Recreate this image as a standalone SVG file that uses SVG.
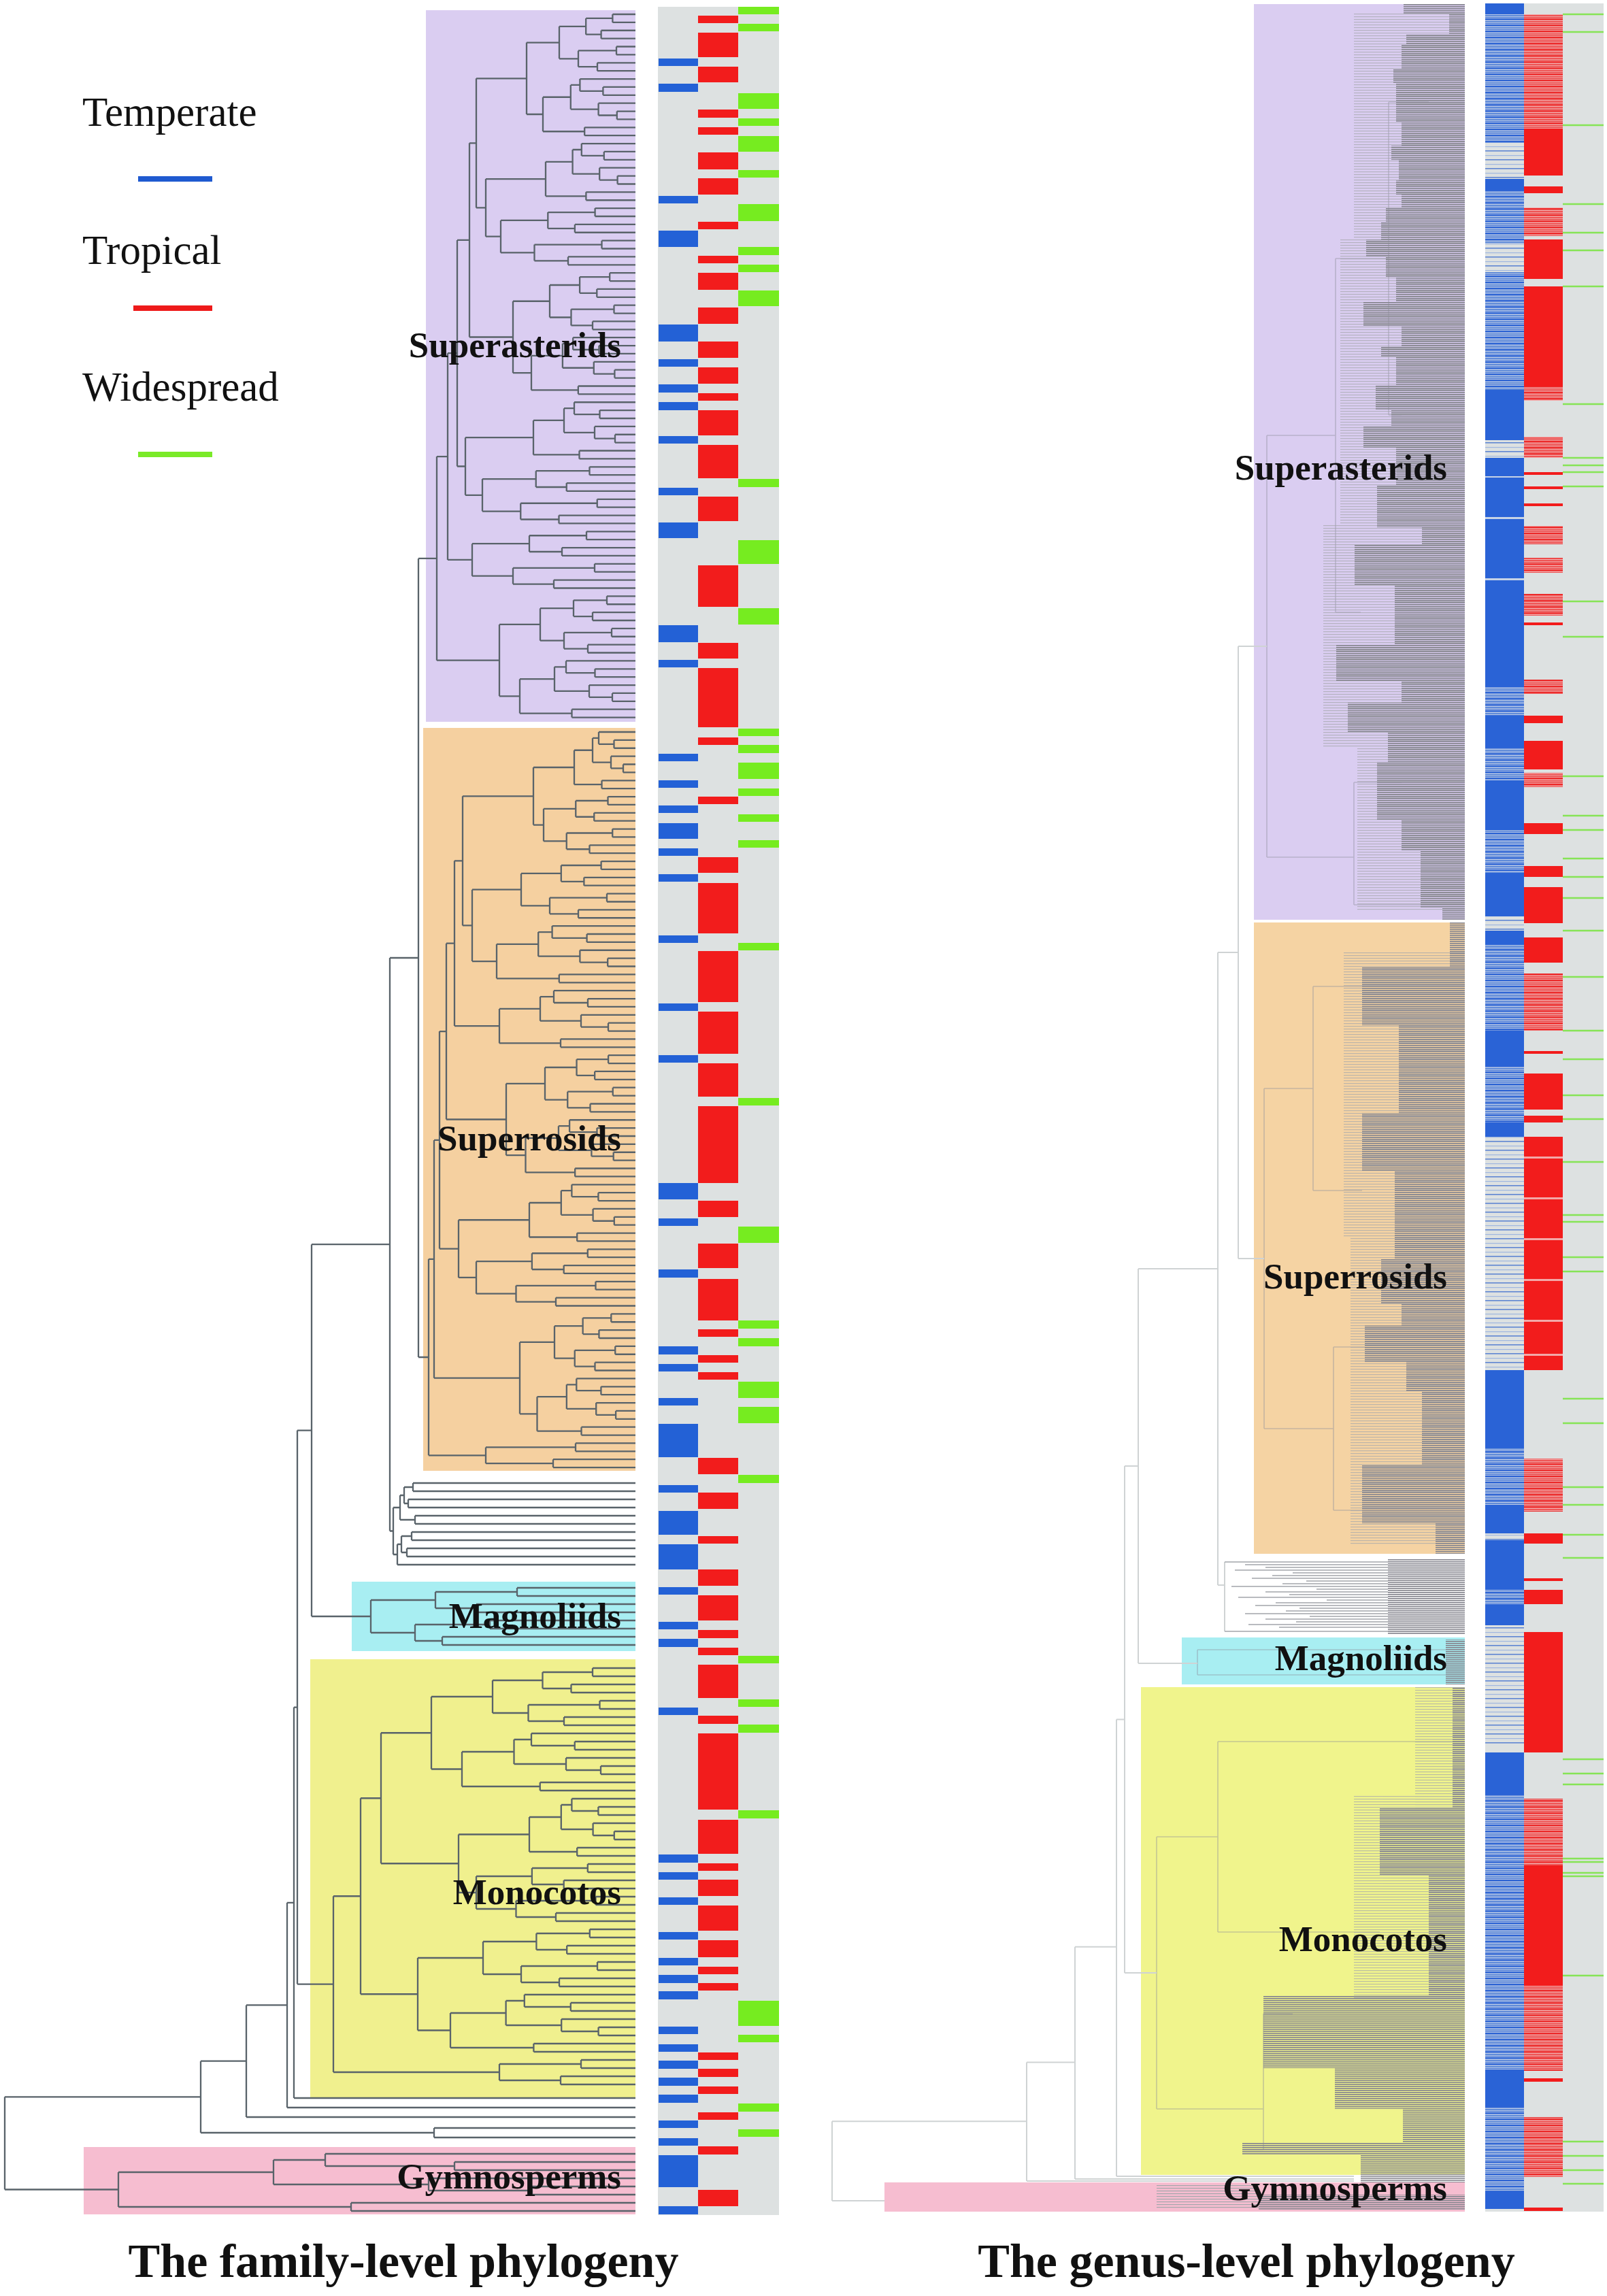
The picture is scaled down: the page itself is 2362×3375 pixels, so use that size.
<svg xmlns="http://www.w3.org/2000/svg" xmlns:xlink="http://www.w3.org/1999/xlink" width="2362" height="3375" viewBox="0 0 2362 3375">
<style>
.ft{fill:none;stroke:#59636a;stroke-width:2.3}
.gl{fill:none;stroke:#cfd3d4;stroke-width:2}
.gi{fill:none;stroke:#8e8e9c;stroke-width:1.6;opacity:0.45}
.gf{fill:none;stroke:#a3a5aa;stroke-width:1.4}
.lbl{font-family:"Liberation Serif","Times New Roman",serif;font-weight:bold;font-size:53px;text-anchor:end;fill:#111}
.leg{font-family:"Liberation Serif","Times New Roman",serif;font-size:61px;fill:#111}
.ttl{font-family:"Liberation Serif","Times New Roman",serif;font-weight:bold;font-size:70px;text-anchor:middle;fill:#111}
.b{fill:#2361d6}.r{fill:#f21c1c}.g{fill:#76ec20}
.b2{fill:#2a63d6}.r2{fill:#f21c1c}
</style>
<defs>
<path id="g8a" vector-effect="non-scaling-stroke" d="M-30 0H0M-30 12H0M-30 0V12M-45 24H0M-45 36H0M-45 24V36M-65 6H-30M-65 30H-45M-65 6V30M-25 48H0M-25 60H0M-25 48V60M-50 72H0M-50 84H0M-50 72V84M-75 54H-25M-75 78H-50M-75 54V78M-100 18H-65M-100 66H-75M-100 18V66"/>
<path id="g8b" vector-effect="non-scaling-stroke" d="M-60 0H0M-35 12H0M-35 24H0M-35 12V24M-60 18H-35M-60 0V18M-40 36H0M-20 48H0M-20 60H0M-20 48V60M-40 54H-20M-40 36V54M-70 9H-60M-70 45H-40M-70 9V45M-55 72H0M-55 84H0M-55 72V84M-100 27H-70M-100 78H-55M-100 27V78"/>
<path id="g4" vector-effect="non-scaling-stroke" d="M-40 0H0M-40 12H0M-40 0V12M-55 24H0M-55 36H0M-55 24V36M-100 6H-40M-100 30H-55M-100 6V30"/>
<g id="g16a"><use href="#g8a" transform="scale(0.7,1)"/><use href="#g8b" transform="translate(0,96) scale(0.85,1)"/><path vector-effect="non-scaling-stroke" d="M-100 42H-70M-100 148.5H-85M-100 42V148.5"/></g>
<g id="g16b"><use href="#g8b" transform="scale(0.6,1)"/><use href="#g8a" transform="translate(0,96) scale(0.9,1)"/><path vector-effect="non-scaling-stroke" d="M-100 52.5H-60M-100 138H-90M-100 52.5V138"/></g>
<pattern id="gt" width="8" height="3" patternUnits="userSpaceOnUse"><rect width="8" height="1.7" fill="#86868f"/></pattern>
<pattern id="gtl" width="8" height="4" patternUnits="userSpaceOnUse"><rect width="8" height="1.2" fill="#a4a6ab"/></pattern>
<pattern id="bs" width="8" height="9" patternUnits="userSpaceOnUse"><rect width="8" height="9" fill="#b9c9e6"/><rect width="8" height="2.5" fill="#2d64d4"/><rect y="4" width="8" height="2" fill="#5f8ad8"/><rect y="7" width="8" height="1" fill="#3c6fd6"/></pattern>
<pattern id="bl" width="8" height="13" patternUnits="userSpaceOnUse"><rect width="8" height="1.6" fill="#5f86d2"/><rect y="7" width="8" height="1.2" fill="#9fb6df"/></pattern>
<pattern id="rs" width="8" height="9" patternUnits="userSpaceOnUse"><rect width="8" height="9" fill="#f2a9a9"/><rect width="8" height="2.5" fill="#ec2a2a"/><rect y="4" width="8" height="2" fill="#ee5454"/><rect y="7" width="8" height="1" fill="#e63030"/></pattern>
</defs>
<rect width="2362" height="3375" fill="#ffffff"/>

<g id="legend">
<text class="leg" x="121" y="185">Temperate</text>
<line x1="203" y1="263" x2="312" y2="263" stroke="#1f5ad0" stroke-width="8"/>
<text class="leg" x="121" y="388">Tropical</text>
<line x1="196" y1="453" x2="312" y2="453" stroke="#ee1a1a" stroke-width="8"/>
<text class="leg" x="121" y="589">Widespread</text>
<line x1="203" y1="668" x2="312" y2="668" stroke="#7aea28" stroke-width="8"/>
</g>

<g id="family-clades">
<rect id="f-superasterids" x="626" y="15" width="308" height="1046" fill="#dacdf1"/>
<rect id="f-superrosids" x="622" y="1070" width="312" height="1092" fill="#f5d0a0"/>
<rect id="f-magnoliids" x="517" y="2325" width="417" height="102" fill="#a8eef2"/>
<rect id="f-monocotos" x="456" y="2439" width="478" height="644" fill="#f0f08e"/>
<rect id="f-gymnosperms" x="123" y="3156" width="811" height="99" fill="#f6bdd0"/>
</g>

<g id="family-tree" class="ft">
<use href="#g16a" transform="translate(934,21) scale(1.6,0.99)"/>
<use href="#g16b" transform="translate(934,211.08) scale(2.2,0.99)"/>
<use href="#g16a" transform="translate(934,401.16) scale(1.8,0.99)"/>
<use href="#g16b" transform="translate(934,591.24) scale(2.5,0.99)"/>
<use href="#g8a" transform="translate(934,781.32) scale(2.4,0.99)"/>
<use href="#g16a" transform="translate(934,876.36) scale(2.0,0.99)"/>
<use href="#g16b" transform="translate(934,1076) scale(1.5,0.99)"/>
<use href="#g16a" transform="translate(934,1266.08) scale(2.4,0.99)"/>
<use href="#g8b" transform="translate(934,1456.16) scale(2.0,0.99)"/>
<use href="#g16a" transform="translate(934,1551.2) scale(1.9,0.99)"/>
<use href="#g16b" transform="translate(934,1741.28) scale(2.6,0.99)"/>
<use href="#g16a" transform="translate(934,1931.36) scale(1.7,0.99)"/>
<use href="#g4" transform="translate(934,2121.44) scale(2.2,0.99)"/>
<use href="#g16a" transform="translate(934,2452) scale(3.0,1)"/>
<use href="#g16b" transform="translate(934,2644) scale(2.6,1)"/>
<use href="#g16a" transform="translate(934,2836) scale(3.2,1)"/>
<use href="#g4" transform="translate(934,3028) scale(2.0,1)"/>
<use href="#g8b" transform="translate(934,3166) scale(7.6,1)"/>
<path d="M700 115.3H774M700 305.4H714M700 115.3V305.4M690 210.35H700M690 495.5H754M690 210.35V495.5M672 352.9H690M672 685.5H684M672 352.9V685.5M658 519.2H672M658 822.9H694M658 519.2V822.9M642 671.05H658M642 970.7H734M642 671.05V970.7"/>
<path d="M680 1170.3H784M680 1360.4H694M680 1170.3V1360.4M668 1265.3H680M668 1508.1H734M668 1265.3V1508.1M656 1386.7H668M656 1645.5H744M656 1386.7V1645.5M646 1516.1H656M646 1835.6H674M646 1516.1V1835.6M638 1675.9H646M638 2025.7H764M638 1675.9V2025.7M630 1850.8H638M630 2139.3H714M630 1850.8V2139.3"/>
<path d="M615 820.9H642M615 1995H630M615 820.9V1995"/>
<path d="M607 2180H934M607 2192H934M607 2180V2192M600 2204H934M600 2216H934M600 2204V2216M594 2186H607M594 2210H600M594 2186V2210M610 2228H934M610 2240H934M610 2228V2240M588 2198H594M588 2234H610M588 2198V2234M605 2252H934M605 2264H934M605 2252V2264M598 2276H934M598 2288H934M598 2276V2288M590 2258H605M590 2282H598M590 2258V2282M584 2270H590M584 2300H934M584 2270V2300M578 2216H588M578 2285H584M578 2216V2285"/>
<path d="M573 1408H615M573 2250.5H578M573 1408V2250.5"/>
<path d="M760 2334H934M760 2346H934M760 2334V2346M700 2358H934M700 2370H934M700 2358V2370M640 2340H760M640 2364H700M640 2340V2364M720 2382H934M720 2394H934M720 2382V2394M650 2406H934M650 2418H934M650 2406V2418M610 2388H720M610 2412H650M610 2388V2412M545 2352H640M545 2400H610M545 2352V2400"/>
<path d="M458 1829.2H573M458 2376H545M458 1829.2V2376"/>
<path d="M560 2547.25H634M560 2739.25H674M560 2547.25V2739.25M530 2643.25H560M530 2931.25H614M530 2643.25V2931.25M490 2787.25H530M490 3046H734M490 2787.25V3046"/>
<path d="M437 2102.6H458M437 2916.6H490M437 2102.6V2916.6M432 2509.6H437M432 3084H934M432 2509.6V3084M422 2796.8H432M422 3098H934M422 2796.8V3098M362 2947.4H422M362 3112H934M362 2947.4V3112M638 3128H934M638 3142H934M638 3128V3142M295 3029.7H362M295 3135H638M295 3029.7V3135M7 3082.35H295M7 3218.5H174M7 3082.35V3218.5"/>
</g>

<g id="family-bars">
<rect x="967" y="10" width="178" height="3246" fill="#dde1e1"/>
<g class="b">
<rect x="968" y="86" width="58" height="11"/><rect x="968" y="123" width="58" height="12"/><rect x="968" y="288" width="58" height="11"/><rect x="968" y="339" width="58" height="24"/><rect x="968" y="477" width="58" height="25"/><rect x="968" y="528" width="58" height="11"/><rect x="968" y="565" width="58" height="12"/><rect x="968" y="591" width="58" height="12"/><rect x="968" y="641" width="58" height="11"/><rect x="968" y="717" width="58" height="11"/><rect x="968" y="768" width="58" height="23"/><rect x="968" y="919" width="58" height="25"/><rect x="968" y="970" width="58" height="11"/>
<rect x="968" y="1108" width="58" height="11"/><rect x="968" y="1147" width="58" height="11"/><rect x="968" y="1184" width="58" height="11"/><rect x="968" y="1210" width="58" height="23"/><rect x="968" y="1247" width="58" height="11"/><rect x="968" y="1285" width="58" height="11"/><rect x="968" y="1375" width="58" height="11"/><rect x="968" y="1475" width="58" height="11"/><rect x="968" y="1551" width="58" height="11"/><rect x="968" y="1739" width="58" height="24"/><rect x="968" y="1791" width="58" height="11"/><rect x="968" y="1866" width="58" height="12"/><rect x="968" y="1979" width="58" height="12"/><rect x="968" y="2005" width="58" height="11"/><rect x="968" y="2055" width="58" height="11"/><rect x="968" y="2093" width="58" height="49"/>
<rect x="968" y="2183" width="58" height="11"/><rect x="968" y="2221" width="58" height="35"/><rect x="968" y="2270" width="58" height="37"/><rect x="968" y="2333" width="58" height="11"/><rect x="968" y="2384" width="58" height="11"/><rect x="968" y="2409" width="58" height="12"/><rect x="968" y="2510" width="58" height="11"/><rect x="968" y="2726" width="58" height="12"/><rect x="968" y="2752" width="58" height="11"/><rect x="968" y="2789" width="58" height="11"/><rect x="968" y="2840" width="58" height="11"/><rect x="968" y="2878" width="58" height="11"/><rect x="968" y="2903" width="58" height="12"/><rect x="968" y="2927" width="58" height="12"/><rect x="968" y="2979" width="58" height="11"/><rect x="968" y="3005" width="58" height="11"/><rect x="968" y="3029" width="58" height="12"/><rect x="968" y="3054" width="58" height="12"/><rect x="968" y="3079" width="58" height="12"/><rect x="968" y="3117" width="58" height="11"/><rect x="968" y="3143" width="58" height="11"/><rect x="968" y="3168" width="58" height="47"/><rect x="968" y="3243" width="58" height="12"/>
</g>
<g class="r">
<rect x="1026" y="23" width="59" height="11"/><rect x="1026" y="48" width="59" height="36"/><rect x="1026" y="98" width="59" height="23"/><rect x="1026" y="161" width="59" height="12"/><rect x="1026" y="187" width="59" height="11"/><rect x="1026" y="224" width="59" height="25"/><rect x="1026" y="262" width="59" height="24"/><rect x="1026" y="326" width="59" height="11"/><rect x="1026" y="376" width="59" height="11"/><rect x="1026" y="401" width="59" height="25"/><rect x="1026" y="452" width="59" height="24"/><rect x="1026" y="502" width="59" height="24"/><rect x="1026" y="540" width="59" height="24"/><rect x="1026" y="578" width="59" height="11"/><rect x="1026" y="603" width="59" height="37"/><rect x="1026" y="654" width="59" height="49"/><rect x="1026" y="730" width="59" height="36"/><rect x="1026" y="831" width="59" height="61"/><rect x="1026" y="945" width="59" height="23"/><rect x="1026" y="982" width="59" height="87"/><rect x="1026" y="1084" width="59" height="11"/>
<rect x="1026" y="1171" width="59" height="11"/><rect x="1026" y="1260" width="59" height="23"/><rect x="1026" y="1298" width="59" height="74"/><rect x="1026" y="1398" width="59" height="75"/><rect x="1026" y="1487" width="59" height="62"/><rect x="1026" y="1563" width="59" height="49"/><rect x="1026" y="1626" width="59" height="113"/><rect x="1026" y="1765" width="59" height="24"/><rect x="1026" y="1828" width="59" height="36"/><rect x="1026" y="1880" width="59" height="61"/><rect x="1026" y="1954" width="59" height="11"/><rect x="1026" y="1992" width="59" height="11"/><rect x="1026" y="2017" width="59" height="11"/><rect x="1026" y="2143" width="59" height="24"/>
<rect x="1026" y="2194" width="59" height="24"/><rect x="1026" y="2258" width="59" height="11"/><rect x="1026" y="2307" width="59" height="24"/><rect x="1026" y="2345" width="59" height="37"/><rect x="1026" y="2396" width="59" height="12"/><rect x="1026" y="2422" width="59" height="11"/><rect x="1026" y="2447" width="59" height="49"/><rect x="1026" y="2522" width="59" height="12"/><rect x="1026" y="2548" width="59" height="112"/><rect x="1026" y="2675" width="59" height="50"/><rect x="1026" y="2739" width="59" height="11"/><rect x="1026" y="2763" width="59" height="24"/><rect x="1026" y="2801" width="59" height="37"/><rect x="1026" y="2852" width="59" height="25"/><rect x="1026" y="2891" width="59" height="11"/><rect x="1026" y="2915" width="59" height="11"/><rect x="1026" y="3017" width="59" height="11"/><rect x="1026" y="3041" width="59" height="12"/><rect x="1026" y="3067" width="59" height="11"/><rect x="1026" y="3105" width="59" height="11"/><rect x="1026" y="3155" width="59" height="12"/><rect x="1026" y="3219" width="59" height="24"/>
</g>
<g class="g">
<rect x="1085" y="10" width="60" height="11"/><rect x="1085" y="35" width="60" height="11"/><rect x="1085" y="137" width="60" height="23"/><rect x="1085" y="174" width="60" height="11"/><rect x="1085" y="200" width="60" height="23"/><rect x="1085" y="250" width="60" height="11"/><rect x="1085" y="300" width="60" height="25"/><rect x="1085" y="363" width="60" height="12"/><rect x="1085" y="389" width="60" height="11"/><rect x="1085" y="427" width="60" height="23"/><rect x="1085" y="704" width="60" height="12"/><rect x="1085" y="794" width="60" height="35"/><rect x="1085" y="894" width="60" height="24"/><rect x="1085" y="1071" width="60" height="11"/>
<rect x="1085" y="1095" width="60" height="12"/><rect x="1085" y="1121" width="60" height="24"/><rect x="1085" y="1159" width="60" height="11"/><rect x="1085" y="1197" width="60" height="11"/><rect x="1085" y="1235" width="60" height="11"/><rect x="1085" y="1386" width="60" height="11"/><rect x="1085" y="1614" width="60" height="11"/><rect x="1085" y="1803" width="60" height="24"/><rect x="1085" y="1941" width="60" height="12"/><rect x="1085" y="1967" width="60" height="12"/><rect x="1085" y="2031" width="60" height="24"/><rect x="1085" y="2068" width="60" height="24"/><rect x="1085" y="2168" width="60" height="12"/>
<rect x="1085" y="2434" width="60" height="11"/><rect x="1085" y="2498" width="60" height="11"/><rect x="1085" y="2535" width="60" height="12"/><rect x="1085" y="2661" width="60" height="12"/><rect x="1085" y="2941" width="60" height="37"/><rect x="1085" y="2991" width="60" height="11"/><rect x="1085" y="3092" width="60" height="12"/><rect x="1085" y="3130" width="60" height="11"/>
</g>
</g>

<g id="family-labels">
<text class="lbl" x="913" y="525">Superasterids</text>
<text class="lbl" x="913" y="1691">Superrosids</text>
<text class="lbl" x="913" y="2393">Magnoliids</text>
<text class="lbl" x="913" y="2799">Monocotos</text>
<text class="lbl" x="913" y="3217">Gymnosperms</text>
</g>

<g id="genus-clades">
<rect id="g-superasterids" x="1843" y="6" width="310" height="1346" fill="#dacdf1"/>
<rect id="g-superrosids" x="1843" y="1356" width="310" height="928" fill="#f5d3a3"/>
<rect id="g-magnoliids" x="1737" y="2407" width="416" height="69" fill="#a8eef2"/>
<rect id="g-monocotos" x="1677" y="2480" width="476" height="717" fill="#f0f48c"/>
<rect id="g-gymnosperms" x="1300" y="3208" width="853" height="43" fill="#f6bdd0"/>
</g>

<g id="genus-tree">
<path class="gi" d="M1862 640V1260M1862 640H1963M1862 1260H1990M1963 380V900M1963 380H2041M1963 900H2000M2041 150V610M2041 150H2100M2041 610H2060M1990 1150V1330M1990 1150H2060M1990 1330H2088M1858 1600V2100M1858 1600H1930M1858 2100H1960M1930 1450V1750M1930 1450H2002M1930 1750H2002M1960 1980V2220M1960 1980H2006M1960 2220H2002M1760 2425V2462M1760 2425H2125M1760 2462H2125M1700 2700V3100M1700 2700H1790M1700 3100H1857M1790 2560V2840M1790 2560H2135M1790 2840H2028M1857 2960V3160M1857 2960H1900M1857 3160H1826"/>
<path class="gl" d="M1820 950H1862M1820 1850H1858M1820 950V1850M1790 1400H1820M1790 2330H1800M1790 1400V2330M1800 2296V2398M1673 1865H1790M1673 2445H1760M1673 1865V2445M1653 2155H1673M1653 2900H1700M1653 2155V2900M1641 2527.5H1653M1641 3199H1990M1641 2527.5V3199M1580 2861.75H1641M1580 3203H1990M1580 2861.75V3203M1509 3031.4H1580M1509 3206H1990M1509 3031.4V3206M1223 3118.2H1509M1223 3235H1300M1223 3118.2V3235"/>
<path class="gf" d="M1800 2296H2040M1830 2300H2040M1860 2304H2040M1815 2308H2040M1900 2312H2040M1870 2316H2040M1840 2320H2040M1920 2324H2040M1885 2328H2040M1810 2332H2040M1935 2336H2040M1860 2340H2040M1895 2344H2040M1820 2348H2040M1950 2352H2040M1875 2356H2040M1845 2360H2040M1910 2364H2040M1890 2368H2040M1830 2372H2040M1925 2376H2040M1860 2380H2040M1905 2384H2040M1835 2388H2040M1880 2392H2040M1800 2398H2040"/>
<g fill="url(#gtl)" opacity="0.7">
<rect x="1990" y="20" width="163" height="330"/><rect x="1970" y="350" width="183" height="420"/><rect x="1945" y="770" width="208" height="330"/><rect x="1995" y="1100" width="158" height="240"/>
<rect x="1975" y="1400" width="178" height="420"/><rect x="1985" y="1820" width="168" height="450"/>
<rect x="2080" y="2480" width="73" height="180"/><rect x="1990" y="2640" width="163" height="300"/>
</g>
<g fill="url(#gt)">
<rect x="2063" y="6" width="90" height="14"/><rect x="2130" y="20" width="23" height="30"/><rect x="2067" y="50" width="86" height="16"/><rect x="2060" y="66" width="93" height="36"/><rect x="2048" y="102" width="105" height="20"/><rect x="2052" y="122" width="101" height="57"/><rect x="2060" y="179" width="93" height="35"/><rect x="2045" y="214" width="108" height="21"/><rect x="2056" y="235" width="97" height="30"/><rect x="2052" y="265" width="101" height="21"/><rect x="2060" y="286" width="93" height="20"/><rect x="2037" y="306" width="116" height="20"/><rect x="2030" y="326" width="123" height="26"/><rect x="2008" y="352" width="145" height="25"/><rect x="2037" y="377" width="116" height="31"/><rect x="2052" y="408" width="101" height="36"/><rect x="2004" y="444" width="149" height="36"/><rect x="2060" y="480" width="93" height="30"/><rect x="2030" y="510" width="123" height="15"/><rect x="2052" y="525" width="101" height="41"/><rect x="2022" y="566" width="131" height="36"/><rect x="2045" y="602" width="108" height="25"/><rect x="2004" y="627" width="149" height="31"/><rect x="2052" y="658" width="101" height="56"/><rect x="2024" y="714" width="129" height="61"/><rect x="2090" y="775" width="63" height="25"/><rect x="1991" y="800" width="162" height="61"/><rect x="2050" y="861" width="103" height="86"/><rect x="1964" y="947" width="189" height="54"/><rect x="2060" y="1001" width="93" height="32"/><rect x="1981" y="1033" width="172" height="43"/><rect x="2040" y="1076" width="113" height="44"/><rect x="2024" y="1120" width="129" height="85"/><rect x="2060" y="1205" width="93" height="45"/><rect x="2088" y="1250" width="65" height="85"/><rect x="2120" y="1335" width="33" height="17"/>
<rect x="2131" y="1356" width="22" height="65"/><rect x="2002" y="1421" width="151" height="86"/><rect x="2056" y="1507" width="97" height="129"/><rect x="2002" y="1636" width="151" height="86"/><rect x="2050" y="1722" width="103" height="128"/><rect x="2030" y="1850" width="123" height="66"/><rect x="2060" y="1916" width="93" height="32"/><rect x="2006" y="1948" width="147" height="54"/><rect x="2067" y="2002" width="86" height="43"/><rect x="2090" y="2045" width="63" height="108"/><rect x="2002" y="2153" width="151" height="86"/><rect x="2110" y="2239" width="43" height="45"/>
<rect x="2040" y="2292" width="113" height="110"/>
<rect x="2125" y="2410" width="28" height="66"/>
<rect x="2135" y="2480" width="18" height="178"/><rect x="2028" y="2658" width="125" height="98"/><rect x="2100" y="2756" width="53" height="177"/><rect x="1857" y="2933" width="296" height="107"/><rect x="1962" y="3040" width="191" height="60"/><rect x="2062" y="3100" width="91" height="50"/><rect x="1826" y="3150" width="327" height="17"/><rect x="2000" y="3167" width="153" height="41"/>
<rect x="1850" y="3226" width="303" height="22"/>
</g>
<g fill="url(#gtl)">
<rect x="1700" y="3210" width="150" height="38"/>
</g>
</g>

<g id="genus-bars">
<rect x="2183" y="5" width="174" height="3246" fill="#dde1e1"/>
<rect class="b2" x="2183" y="5" width="57" height="16"/>
<rect fill="url(#bs)" x="2183" y="21" width="57" height="189"/>
<rect fill="url(#bl)" x="2183" y="210" width="57" height="53"/>
<rect class="b2" x="2183" y="263" width="57" height="16"/>
<rect fill="url(#bs)" x="2183" y="279" width="57" height="79"/>
<rect fill="url(#bl)" x="2183" y="358" width="57" height="42"/>
<rect fill="url(#bs)" x="2183" y="400" width="57" height="173"/>
<rect class="b2" x="2183" y="573" width="57" height="74"/>
<rect fill="url(#bl)" x="2183" y="647" width="57" height="26"/>
<rect class="b2" x="2183" y="673" width="57" height="337"/>
<rect fill="#c7d3e6" x="2183" y="760" width="57" height="3"/><rect fill="#c7d3e6" x="2183" y="850" width="57" height="3"/><rect fill="#c7d3e6" x="2183" y="700" width="57" height="2"/>
<rect fill="url(#bs)" x="2183" y="1010" width="57" height="42"/>
<rect class="b2" x="2183" y="1052" width="57" height="47"/>
<rect fill="url(#bs)" x="2183" y="1099" width="57" height="48"/>
<rect class="b2" x="2183" y="1147" width="57" height="73"/>
<rect fill="url(#bs)" x="2183" y="1220" width="57" height="63"/>
<rect class="b2" x="2183" y="1283" width="57" height="64"/>
<rect fill="url(#bl)" x="2183" y="1347" width="57" height="21"/>
<rect class="b2" x="2183" y="1368" width="57" height="21"/>
<rect fill="url(#bs)" x="2183" y="1389" width="57" height="126"/>
<rect class="b2" x="2183" y="1515" width="57" height="52"/>
<rect fill="url(#bs)" x="2183" y="1567" width="57" height="83"/>
<rect class="b2" x="2183" y="1650" width="57" height="21"/>
<rect fill="url(#bl)" x="2183" y="1671" width="57" height="343"/>
<rect class="b2" x="2183" y="2014" width="57" height="115"/>
<rect fill="url(#bs)" x="2183" y="2129" width="57" height="83"/>
<rect class="b2" x="2183" y="2212" width="57" height="42"/>
<rect fill="url(#bl)" x="2183" y="2254" width="57" height="10"/>
<rect class="b2" x="2183" y="2264" width="57" height="73"/>
<rect fill="url(#bs)" x="2183" y="2337" width="57" height="21"/>
<rect class="b2" x="2183" y="2358" width="57" height="31"/>
<rect fill="url(#bl)" x="2183" y="2389" width="57" height="177"/>
<rect class="b2" x="2183" y="2576" width="57" height="62"/>
<rect fill="url(#bs)" x="2183" y="2638" width="57" height="406"/>
<rect class="b2" x="2183" y="3044" width="57" height="52"/>
<rect fill="url(#bs)" x="2183" y="3096" width="57" height="125"/>
<rect class="b2" x="2183" y="3221" width="57" height="26"/>

<rect fill="url(#rs)" x="2240" y="21" width="57" height="168"/>
<rect class="r2" x="2240" y="189" width="57" height="69"/>
<rect class="r2" x="2240" y="274" width="57" height="10"/>
<rect fill="url(#rs)" x="2240" y="305" width="57" height="42"/>
<rect class="r2" x="2240" y="352" width="57" height="58"/>
<rect class="r2" x="2240" y="421" width="57" height="147"/>
<rect fill="url(#rs)" x="2240" y="568" width="57" height="21"/>
<rect fill="url(#rs)" x="2240" y="642" width="57" height="31"/>
<rect class="r2" x="2240" y="694" width="57" height="4"/><rect class="r2" x="2240" y="715" width="57" height="4"/><rect class="r2" x="2240" y="740" width="57" height="4"/>
<rect fill="url(#rs)" x="2240" y="773" width="57" height="27"/>
<rect fill="url(#rs)" x="2240" y="820" width="57" height="22"/>
<rect fill="url(#rs)" x="2240" y="873" width="57" height="32"/>
<rect class="r2" x="2240" y="915" width="57" height="4"/>
<rect fill="url(#rs)" x="2240" y="999" width="57" height="21"/>
<rect class="r2" x="2240" y="1052" width="57" height="11"/>
<rect class="r2" x="2240" y="1089" width="57" height="42"/>
<rect fill="url(#rs)" x="2240" y="1136" width="57" height="21"/>
<rect class="r2" x="2240" y="1210" width="57" height="16"/>
<rect class="r2" x="2240" y="1273" width="57" height="16"/>
<rect class="r2" x="2240" y="1304" width="57" height="53"/>
<rect class="r2" x="2240" y="1378" width="57" height="37"/>
<rect fill="url(#rs)" x="2240" y="1431" width="57" height="84"/>
<rect class="r2" x="2240" y="1545" width="57" height="4"/>
<rect class="r2" x="2240" y="1578" width="57" height="53"/>
<rect class="r2" x="2240" y="1640" width="57" height="10"/>
<rect class="r2" x="2240" y="1671" width="57" height="343"/>
<rect fill="#f3a8a8" x="2240" y="1700" width="57" height="3"/><rect fill="#f3a8a8" x="2240" y="1760" width="57" height="3"/><rect fill="#f3a8a8" x="2240" y="1820" width="57" height="3"/><rect fill="#f3a8a8" x="2240" y="1880" width="57" height="3"/><rect fill="#f3a8a8" x="2240" y="1940" width="57" height="3"/><rect fill="#f3a8a8" x="2240" y="1990" width="57" height="3"/>
<rect fill="url(#rs)" x="2240" y="2144" width="57" height="78"/>
<rect class="r2" x="2240" y="2254" width="57" height="15"/>
<rect class="r2" x="2240" y="2320" width="57" height="4"/>
<rect class="r2" x="2240" y="2337" width="57" height="21"/>
<rect class="r2" x="2240" y="2399" width="57" height="177"/>
<rect fill="url(#rs)" x="2240" y="2644" width="57" height="98"/>
<rect class="r2" x="2240" y="2742" width="57" height="177"/>
<rect fill="url(#rs)" x="2240" y="2919" width="57" height="125"/>
<rect class="r2" x="2240" y="3055" width="57" height="5"/>
<rect fill="url(#rs)" x="2240" y="3112" width="57" height="88"/>
<rect class="r2" x="2240" y="3245" width="57" height="5"/>

<path fill="none" stroke="#86e456" stroke-width="2.5" d="M2297 21H2357M2297 47H2357M2297 184H2357M2297 300H2357M2297 342H2357M2297 368H2357M2297 421H2357M2297 594H2357M2297 673H2357M2297 684H2357M2297 694H2357M2297 715H2357M2297 884H2357M2297 936H2357M2297 1141H2357M2297 1199H2357M2297 1220H2357M2297 1262H2357M2297 1289H2357M2297 1320H2357M2297 1368H2357M2297 1436H2357M2297 1515H2357M2297 1557H2357M2297 1610H2357M2297 1645H2357M2297 1708H2357M2297 1786H2357M2297 1796H2357M2297 1848H2357M2297 1869H2357M2297 2056H2357M2297 2092H2357M2297 2186H2357M2297 2212H2357M2297 2256H2357M2297 2290H2357M2297 2586H2357M2297 2607H2357M2297 2623H2357M2297 2732H2357M2297 2737H2357M2297 2753H2357M2297 2758H2357M2297 2904H2357M2297 3148H2357M2297 3169H2357M2297 3190H2357M2297 3210H2357"/>
</g>

<g id="genus-labels">
<text class="lbl" x="2127" y="705">Superasterids</text>
<text class="lbl" x="2127" y="1894">Superrosids</text>
<text class="lbl" x="2127" y="2455">Magnoliids</text>
<text class="lbl" x="2127" y="2868">Monocotos</text>
<text class="lbl" x="2127" y="3234">Gymnosperms</text>
</g>

<g id="titles">
<text class="ttl" x="593" y="3347">The family-level phylogeny</text>
<text class="ttl" x="1832" y="3347">The genus-level phylogeny</text>
</g>
</svg>
